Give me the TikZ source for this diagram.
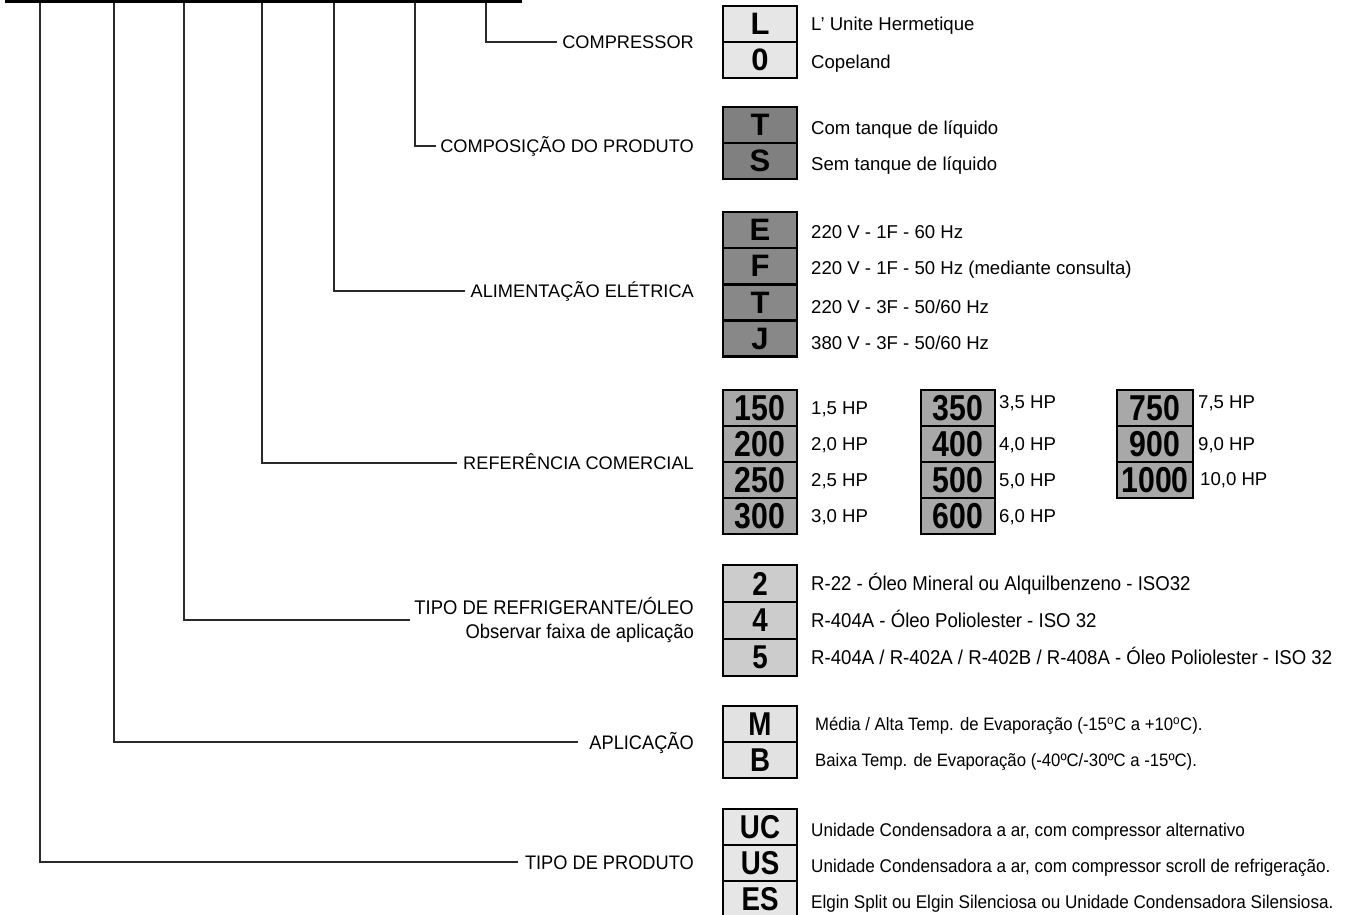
\documentclass[tikz,border=0pt]{standalone}
\usepackage{fontspec}
\setmainfont{Liberation Sans}
\newfontfamily\narrowf[FakeStretch=0.93]{Liberation Sans}
\newfontfamily\boxnarrowf[FakeStretch=0.84]{Liberation Sans}
\definecolor{fillL}{HTML}{E6E6E6}
\definecolor{fillT}{HTML}{808080}
\definecolor{fillE}{HTML}{888888}
\definecolor{fillN}{HTML}{A8A8A8}
\definecolor{fillR}{HTML}{CCCCCC}
\definecolor{fillM}{HTML}{E2E2E2}
\definecolor{lineC}{HTML}{2A2A2A}
\tikzset{
  keybox/.style={draw=black, line width=2.4pt, minimum width=74pt, minimum height=36pt, inner sep=0pt},
  wideF/.style={font=\fontsize{31}{31}\selectfont\bfseries},
  numF/.style={font=\fontsize{36}{36}\selectfont\boxnarrowf\bfseries},
  narF/.style={font=\fontsize{33}{33}\selectfont\boxnarrowf\bfseries},
  desc/.style={anchor=base west, inner sep=0pt, font=\fontsize{18.6}{18.6}\selectfont},
  ndesc/.style={anchor=base west, inner sep=0pt, font=\fontsize{18}{18}\selectfont\narrowf},
  rdesc/.style={anchor=base west, inner sep=0pt, font=\fontsize{20}{20}\selectfont\narrowf},
  udesc/.style={anchor=base west, inner sep=0pt, font=\fontsize{18.4}{18.4}\selectfont\narrowf},
  lab/.style={anchor=east, inner sep=0pt, text height=13pt, text depth=0pt, font=\fontsize{18.2}{18.2}\selectfont},
  nlab/.style={anchor=east, inner sep=0pt, text height=14pt, text depth=0pt, font=\fontsize{19.6}{19.6}\selectfont\narrowf},
  conn/.style={draw=lineC, line width=1.4pt},
}
\begin{document}
\begin{tikzpicture}[x=1pt, y=-1pt]
\useasboundingbox (0,0) rectangle (1351,914);
% top bar
\fill[black] (5,0) rectangle (522,3);
\foreach \tx in {80,153,228,300,373,448}{\fill[black] (\tx-0.8,0) rectangle (\tx+0.8,-1);}
% connector roots
\coordinate (r1) at (486,3);
\coordinate (r2) at (415,3);
\coordinate (r3) at (334,3);
\coordinate (r4) at (262,3);
\coordinate (r5) at (184,3);
\coordinate (r6) at (114,3);
\coordinate (r7) at (40,3);
% labels
\node[lab] (lcomp) at (694,42) {COMPRESSOR};
\node[lab] (lcompo) at (694,146) {COMPOSIÇÃO DO PRODUTO};
\node[lab] (lalim) at (694,291) {ALIMENTAÇÃO ELÉTRICA};
\node[lab] (lref) at (694,463) {REFERÊNCIA COMERCIAL};
\node[anchor=east, inner sep=0pt, align=right, font=\fontsize{19.8}{24}\selectfont\narrowf] (lrefr) at (694,620) {TIPO DE REFRIGERANTE/ÓLEO\\Observar faixa de aplicação};
\node[nlab] (lapl) at (694,742) {APLICAÇÃO};
\node[nlab] (lprod) at (694,862) {TIPO DE PRODUTO};
% connectors
\draw[conn] (r1) |- ([xshift=-5pt]lcomp.west);
\draw[conn] (r2) |- ([xshift=-4pt]lcompo.west);
\draw[conn] (r3) |- ([xshift=-5pt]lalim.west);
\draw[conn] (r4) |- ([xshift=-6pt]lref.west);
\draw[conn] (r5) |- ([xshift=-4pt]lrefr.west);
\draw[conn] (r6) |- ([xshift=-11pt]lapl.west);
\draw[conn] (r7) |- ([xshift=-7pt]lprod.west);
% COMPRESSOR
\node[keybox, wideF, fill=fillL] (bL) at (760,24) {L};
\node[keybox, wideF, fill=fillL] (b0) at (760,60) {0};
\node[desc] (dL) at (811,30.5) {L’ Unite Hermetique};
\node[desc] (d0) at (811,68) {Copeland};
% COMPOSICAO
\node[keybox, wideF, fill=fillT] (bT) at (760,125) {T};
\node[keybox, wideF, fill=fillT] (bS) at (760,161) {S};
\node[desc] (dT) at (811,134) {Com tanque de líquido};
\node[desc] (dS) at (811,170.5) {Sem tanque de líquido};
% ALIMENTACAO
\node[keybox, wideF, fill=fillE] (bE) at (760,230) {E};
\node[keybox, wideF, fill=fillE] (bF) at (760,266.2) {F};
\node[keybox, wideF, fill=fillE] (bT2) at (760,302.4) {T};
\node[keybox, wideF, fill=fillE] (bJ) at (760,338.6) {J};
\node[desc] (dE) at (811,238) {220 V - 1F - 60 Hz};
\node[desc] (dF) at (811,274.5) {220 V - 1F - 50 Hz (mediante consulta)};
\node[desc] (dT2) at (811,313) {220 V - 3F - 50/60 Hz};
\node[desc] (dJ) at (811,349.5) {380 V - 3F - 50/60 Hz};
% REFERENCIA
\node[keybox, numF, fill=fillN] (b150) at (760,408) {150};
\node[keybox, numF, fill=fillN] (b200) at (760,444) {200};
\node[keybox, numF, fill=fillN] (b250) at (760,480) {250};
\node[keybox, numF, fill=fillN] (b300) at (760,516) {300};
\node[desc] (d150) at (811,414.5) {1,5 HP};
\node[desc] (d200) at (811,450.5) {2,0 HP};
\node[desc] (d250) at (811,486.5) {2,5 HP};
\node[desc] (d300) at (811,522.5) {3,0 HP};
\node[keybox, numF, fill=fillN] (b350) at (958,408) {350};
\node[keybox, numF, fill=fillN] (b400) at (958,444) {400};
\node[keybox, numF, fill=fillN] (b500) at (958,480) {500};
\node[keybox, numF, fill=fillN] (b600) at (958,516) {600};
\node[desc] (d350) at (999,408.5) {3,5 HP};
\node[desc] (d400) at (999,450.5) {4,0 HP};
\node[desc] (d500) at (999,486.5) {5,0 HP};
\node[desc] (d600) at (999,522.5) {6,0 HP};
\node[keybox, numF, fill=fillN, minimum width=76pt] (b750) at (1155,408) {750};
\node[keybox, numF, fill=fillN, minimum width=76pt] (b900) at (1155,444) {900};
\node[keybox, numF, fill=fillN, minimum width=76pt] (b1000) at (1155,480) {1000};
\node[desc] (d750) at (1198,408.5) {7,5 HP};
\node[desc] (d900) at (1198,450.5) {9,0 HP};
\node[desc] (d1000) at (1200,485.5) {10,0 HP};
% REFRIGERANTE
\node[keybox, narF, fill=fillR, minimum height=37pt] (b2) at (760,583.5) {2};
\node[keybox, narF, fill=fillR, minimum height=37pt] (b4) at (760,620.5) {4};
\node[keybox, narF, fill=fillR, minimum height=37pt] (b5) at (760,657.5) {5};
\node[rdesc] (d2) at (811,590.5) {R-22 - Óleo Mineral ou Alquilbenzeno - ISO32};
\node[rdesc] (d4) at (811,627.5) {R-404A - Óleo Poliolester - ISO 32};
\node[rdesc] (d5) at (811,664.5) {R-404A / R-402A / R-402B / R-408A - Óleo Poliolester - ISO 32};
% APLICACAO
\node[keybox, narF, fill=fillM] (bM) at (760,724) {M};
\node[keybox, narF, fill=fillM] (bB) at (760,760) {B};
\node[ndesc] (dM) at (815,730.5) {Média / Alta Temp. de Evaporação (-15\textsuperscript{o}C a +10\textsuperscript{o}C).};
\node[ndesc] (dB) at (815,766.5) {Baixa Temp. de Evaporação (-40ºC/-30ºC a -15ºC).};
% PRODUTO
\node[keybox, narF, fill=fillL] (bUC) at (760,827) {UC};
\node[keybox, narF, fill=fillL] (bUS) at (760,863) {US};
\node[keybox, narF, fill=fillL] (bES) at (760,899) {ES};
\node[udesc] (dUC) at (811,836) {Unidade Condensadora a ar, com compressor alternativo};
\node[udesc] (dUS) at (811,872) {Unidade Condensadora a ar, com compressor scroll de refrigeração.};
\node[udesc] (dES) at (811,908) {Elgin Split ou Elgin Silenciosa ou Unidade Condensadora Silensiosa.};
\end{tikzpicture}
\end{document}
